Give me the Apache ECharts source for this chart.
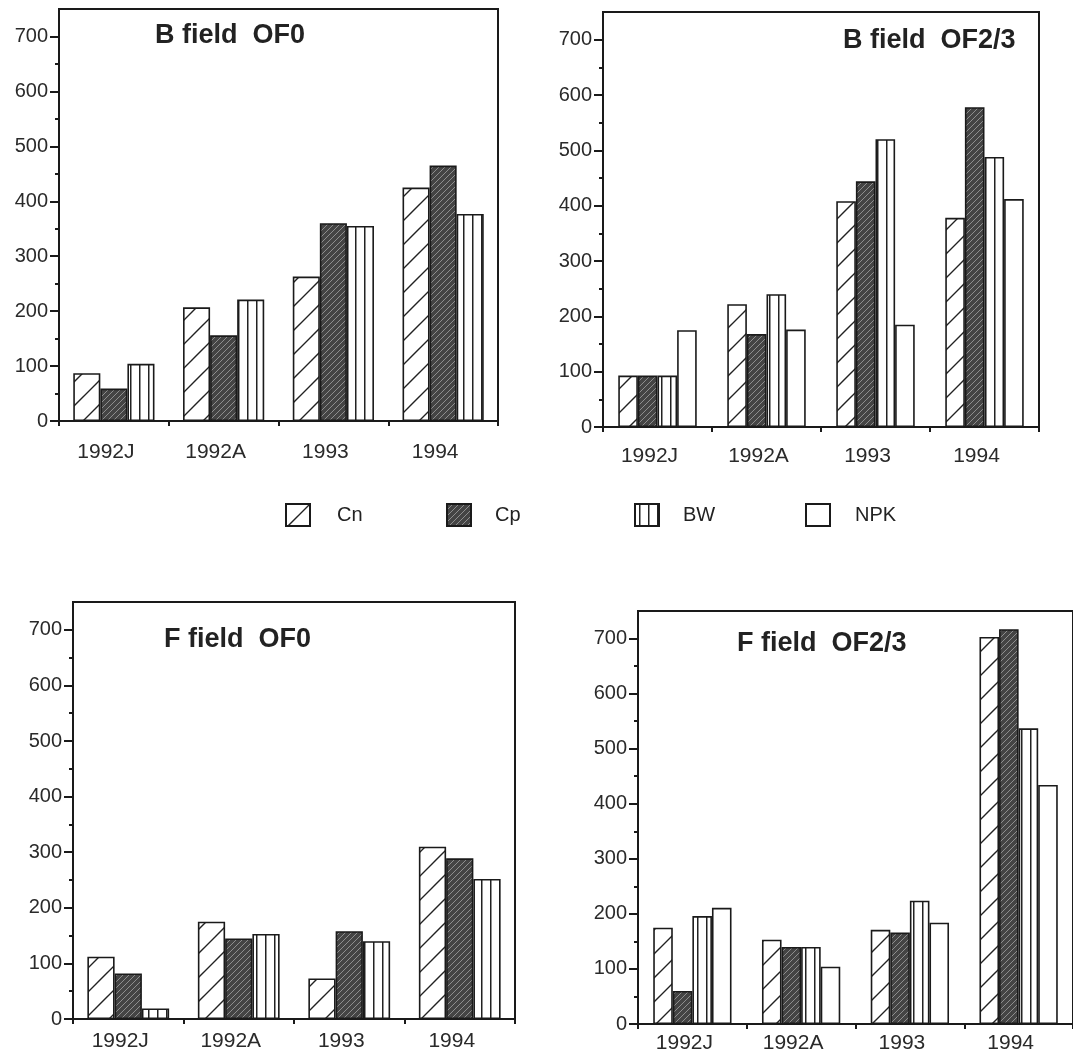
<!DOCTYPE html>
<html>
<head>
<meta charset="utf-8">
<script src="https://cdn.jsdelivr.net/npm/echarts@6/dist/echarts.min.js"></script>
<style>
html,body{margin:0;padding:0;background:#fff;}
#chart{width:1073px;height:1054px;}
</style>
</head>
<body>
<div id="chart"></div>
<script>
// ---- data ----
const categories = ['1992J', '1992A', '1993', '1994'];
const seriesNames = ['Cn', 'Cp', 'BW', 'NPK'];
const yTickValues = [0, 100, 200, 300, 400, 500, 600, 700];

// B field OF0
const bOF0_Cn = [87, 207, 263, 425];
const bOF0_Cp = [59, 156, 360, 465];
const bOF0_BW = [104, 221, 355, 377];
// B field OF2/3
const bOF23_Cn = [93, 222, 408, 378];
const bOF23_Cp = [93, 168, 444, 578];
const bOF23_BW = [93, 240, 520, 488];
const bOF23_NPK = [175, 176, 185, 412];
// F field OF0
const fOF0_Cn = [112, 175, 73, 310];
const fOF0_Cp = [82, 145, 158, 289];
const fOF0_BW = [19, 153, 140, 252];
// F field OF2/3
const fOF23_Cn = [175, 153, 171, 703];
const fOF23_Cp = [60, 140, 166, 717];
const fOF23_BW = [196, 140, 224, 537];
const fOF23_NPK = [211, 104, 184, 434];

const panelTitles = ['B field  OF0', 'B field  OF2/3', 'F field  OF0', 'F field  OF2/3'];

// ---- patterns ----
function makeCanvas(w, h, draw) {
  const c = document.createElement('canvas');
  c.width = w; c.height = h;
  draw(c.getContext('2d'), w, h);
  return c;
}
const cnPattern = makeCanvas(24, 24, (g, w, h) => {
  g.fillStyle = '#fff'; g.fillRect(0, 0, w, h);
  g.strokeStyle = '#222'; g.lineWidth = 1.4;
  g.beginPath();
  g.moveTo(-2, h + 2); g.lineTo(w + 2, -2);
  g.moveTo(-2, 2); g.lineTo(2, -2);
  g.moveTo(w - 2, h + 2); g.lineTo(w + 2, h - 2);
  g.stroke();
});
const cpPattern = makeCanvas(6, 6, (g, w, h) => {
  g.fillStyle = '#444444'; g.fillRect(0, 0, w, h);
  g.strokeStyle = '#8e8e8e'; g.lineWidth = 1;
  g.beginPath();
  g.moveTo(-1, h + 1); g.lineTo(w + 1, -1);
  g.stroke();
});
const bwPattern = makeCanvas(9, 4, (g, w, h) => {
  g.fillStyle = '#fff'; g.fillRect(0, 0, w, h);
  g.fillStyle = '#222'; g.fillRect(4, 0, 1.5, h);
});
const fills = {
  Cn: { image: cnPattern, repeat: 'repeat' },
  Cp: { image: cpPattern, repeat: 'repeat' },
  BW: { image: bwPattern, repeat: 'repeat' },
  NPK: '#ffffff'
};

// ---- layout ----
const grids = [
  { left: 59, top: 9, width: 439, height: 412 },
  { left: 603, top: 12, width: 436, height: 415 },
  { left: 73, top: 602, width: 442, height: 417 },
  { left: 638, top: 611, width: 442, height: 418 }
];
const labelMargins = [21, 19, 12, 9];
const titlePos = [[155, 22], [843, 27], [164, 626], [737, 630]];

const panels = [
  { Cn: bOF0_Cn, Cp: bOF0_Cp, BW: bOF0_BW },
  { Cn: bOF23_Cn, Cp: bOF23_Cp, BW: bOF23_BW, NPK: bOF23_NPK },
  { Cn: fOF0_Cn, Cp: fOF0_Cp, BW: fOF0_BW },
  { Cn: fOF23_Cn, Cp: fOF23_Cp, BW: fOF23_BW, NPK: fOF23_NPK }
];

const FONT = 'Liberation Sans, Arial, sans-serif';
const INK = '#1a1a1a';

const xAxes = [], yAxes = [], series = [], titles = [];
grids.forEach((g, i) => {
  xAxes.push({
    type: 'category', gridIndex: i, data: categories,
    axisLine: { lineStyle: { color: INK, width: 2 } },
    axisTick: { show: true, length: 5, alignWithLabel: false, lineStyle: { color: INK, width: 2 } },
    axisLabel: { fontSize: 21, fontFamily: FONT, color: '#2a2a2a', margin: labelMargins[i], padding: [0, 16, 0, 0] },
    splitLine: { show: false }
  });
  yAxes.push({
    type: 'value', gridIndex: i, min: 0, max: 750, interval: 100,
    axisLine: { show: true, lineStyle: { color: INK, width: 2 } },
    axisTick: { show: true, length: 9, lineStyle: { color: INK, width: 2 }, customValues: yTickValues },
    minorTick: { show: true, splitNumber: 2, length: 4, lineStyle: { color: INK, width: 2 } },
    axisLabel: { fontSize: 20, fontFamily: FONT, color: '#2a2a2a', margin: 11, customValues: yTickValues },
    splitLine: { show: false }
  });
  const p = panels[i];
  const names = seriesNames.filter(n => p[n]);
  names.forEach(n => {
    series.push({
      type: 'bar', name: n, xAxisIndex: i, yAxisIndex: i,
      data: p[n],
      barGap: '0%',
      barCategoryGap: names.length === 3 ? '26%' : '28%',
      itemStyle: { color: fills[n], borderColor: INK, borderWidth: 1.6 },
      emphasis: { disabled: true },
      animation: false
    });
  });
  titles.push({
    text: panelTitles[i], left: titlePos[i][0], top: titlePos[i][1], padding: 0,
    textStyle: { fontSize: 27, fontWeight: 'bold', fontFamily: FONT, color: '#222' }
  });
});

const legendPos = [[285, 22], [446, 19], [634, 19], [805, 20]];
const legends = seriesNames.map((n, k) => ({
  data: [n], left: legendPos[k][0], top: 503, padding: 0,
  itemWidth: 24, itemHeight: 22, selectedMode: false, icon: 'rect',
  itemStyle: { borderColor: INK, borderWidth: 2 },
  textStyle: { fontSize: 20, fontFamily: FONT, color: '#222', padding: [0, 0, 0, legendPos[k][1]] }
}));

const chart = echarts.init(document.getElementById('chart'), null, { renderer: 'canvas' });
chart.setOption({
  backgroundColor: '#fff',
  animation: false,
  title: titles,
  legend: legends,
  grid: grids.map(g => Object.assign({ show: true, borderColor: INK, borderWidth: 2, backgroundColor: 'transparent' }, g)),
  xAxis: xAxes,
  yAxis: yAxes,
  series: series
});
</script>
</body>
</html>
